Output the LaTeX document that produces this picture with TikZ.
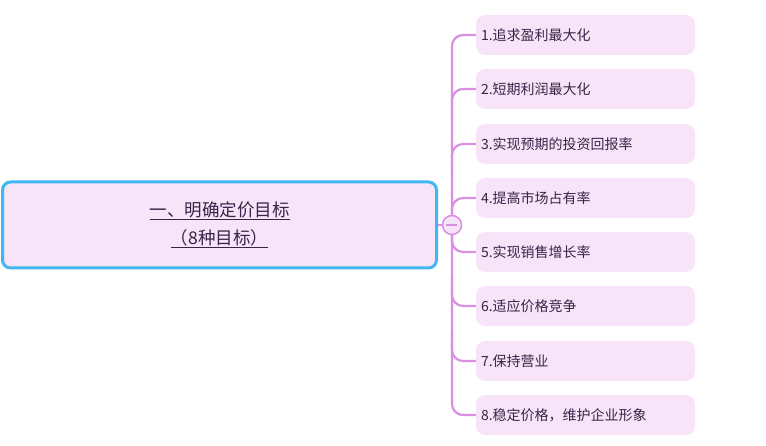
\documentclass[tikz,border=0pt]{standalone}
\usepackage{fontspec}
\setmainfont{Noto Sans CJK SC}
\definecolor{pk}{HTML}{F8E4F8}
\definecolor{ln}{HTML}{DA90E0}
\definecolor{bl}{HTML}{40B6F2}
\definecolor{tx}{HTML}{3A2348}
\begin{document}
\begin{tikzpicture}[x=1pt,y=-1pt,
  child/.style={fill=pk,rounded corners=9pt,minimum width=219pt,minimum height=40pt,text width=209pt,align=left,font=\fontsize{14}{16}\selectfont,text=tx},
  br/.style={draw=ln,line width=2.2pt,rounded corners=11pt}]
\useasboundingbox (0,0) rectangle (766,446);
\node[draw=bl,line width=3pt,fill=pk,rounded corners=8pt,minimum width=434pt,minimum height=86pt,align=center,text=tx,font=\fontsize{17.5}{28}\selectfont] (m) at (219.5,225) {\underline{一、明确定价目标}\\\underline{（8种目标）}};
\draw[br] (m.east) -- (452,225);
\foreach \i/\t/\y in {1/1.追求盈利最大化/35,2/2.短期利润最大化/89,3/3.实现预期的投资回报率/144,4/4.提高市场占有率/198,5/5.实现销售增长率/252,6/6.适应价格竞争/306,7/7.保持营业/361,8/8.稳定价格，维护企业形象/415}{
  \node[child] (n\i) at (585.5,\y) {\t};
}
\draw[br] (452,225) -- (452,35) -- (n1.west);
\draw[br] (452,225) -- (452,415) -- (n8.west);
\foreach \i/\y in {2/89,3/144,4/198}{\draw[br] (452,\y+30) -- (452,\y) -- (n\i.west);}
\foreach \i/\y in {5/252,6/306,7/361}{\draw[br] (452,\y-30) -- (452,\y) -- (n\i.west);}
\node[circle,draw=ln,fill=pk,line width=1.5pt,minimum size=19pt,inner sep=0] (c) at (452,225) {};
\draw[ln,line width=1.5pt] (c.west) ++(4,0) -- ++(11,0);
\end{tikzpicture}
\end{document}
